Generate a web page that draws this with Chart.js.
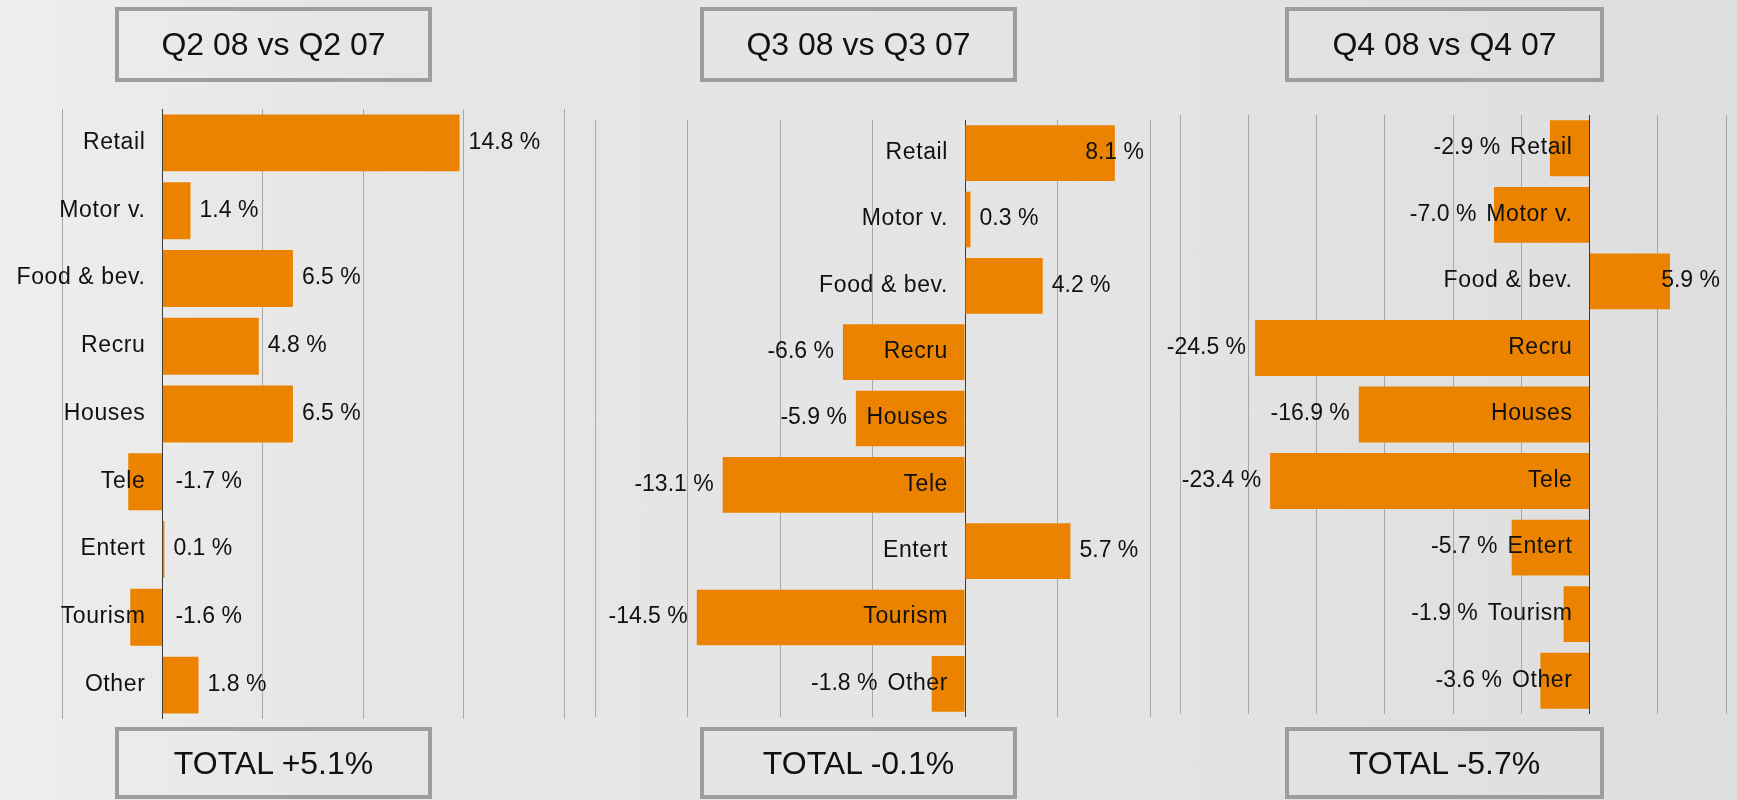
<!DOCTYPE html>
<html>
<head>
<meta charset="utf-8">
<script src="https://cdn.jsdelivr.net/npm/chart.js@4/dist/chart.umd.min.js"></script>
<style>
  html, body { margin: 0; padding: 0; }
  body {
    width: 1737px; height: 800px; overflow: hidden; position: relative;
    background: linear-gradient(to right, #eeeeee 0%, #e6e6e6 20%, #e4e4e4 60%, #dedede 100%);
    font-family: "Liberation Sans", Arial, sans-serif;
  }
  canvas { position: absolute; left: 0; top: 0; }
  .box {
    position: absolute; box-sizing: border-box; border: 4px solid #9d9d9d;
    display: flex; align-items: center; justify-content: center;
    font-size: 32px; color: #111; z-index: 5;
  }
</style>
</head>
<body>
<canvas id="c0" width="1737" height="800"></canvas>
<canvas id="c1" width="1737" height="800"></canvas>
<canvas id="c2" width="1737" height="800"></canvas>
<script>
// data
const categories = ["Retail", "Motor v.", "Food & bev.", "Recru", "Houses", "Tele", "Entert", "Tourism", "Other"];
const q2Values = [14.8, 1.4, 6.5, 4.8, 6.5, -1.7, 0.1, -1.6, 1.8];
const q3Values = [8.1, 0.3, 4.2, -6.6, -5.9, -13.1, 5.7, -14.5, -1.8];
const q4Values = [-2.9, -7.0, 5.9, -24.5, -16.9, -23.4, -5.7, -1.9, -3.6];
const panelTitles = ["Q2 08 vs Q2 07", "Q3 08 vs Q3 07", "Q4 08 vs Q4 07"];
const totals = [5.1, -0.1, -5.7];
const axisMin = [-5, -20, -30];
const axisMax = [20, 10, 10];
const tickStep = 5;

// layout of each panel (plot area in page pixels, header/footer box x range)
const panels = [
    { values: q2Values, plot: { l: 62, r: 564, t: 109, b: 719 }, box: { l: 115, w: 317 }, negSide: "zero" },
    { values: q3Values, plot: { l: 595, r: 1150, t: 120, b: 717 }, box: { l: 700, w: 317 }, negSide: "end" },
    { values: q4Values, plot: { l: 1180, r: 1726, t: 115, b: 714 }, box: { l: 1285, w: 319 }, negSide: "end" }
];

const W = 1737, H = 800;
const FONT = '23px "Liberation Sans", Arial, sans-serif';

function makeLabelPlugin(negSide) {
    return {
        id: "barLabels",
        afterDatasetsDraw(chart) {
            const ctx = chart.ctx;
            const xs = chart.scales.x, ys = chart.scales.y;
            const area = chart.chartArea;
            const zeroX = xs.getPixelForValue(0);
            const vals = chart.data.datasets[0].data;
            ctx.save();
            ctx.font = FONT;
            ctx.fillStyle = "#111";
            ctx.textBaseline = "middle";
            chart.data.labels.forEach(function (lab, i) {
                const y = ys.getPixelForValue(i) - 0.5;
                // category label next to the zero line
                ctx.letterSpacing = "0.6px";
                ctx.textAlign = "right";
                const catRight = zeroX - 17;
                ctx.fillText(lab, catRight, y);
                const catLeft = catRight - ctx.measureText(lab).width;
                // value label
                ctx.letterSpacing = "0px";
                const v = vals[i];
                const txt = v.toFixed(1) + " %";
                const w = ctx.measureText(txt).width;
                const endX = xs.getPixelForValue(v);
                if (v >= 0) {
                    let x = endX + 9;
                    if (x + w > area.right - 6) x = area.right - 6 - w;
                    ctx.textAlign = "left";
                    ctx.fillText(txt, x, y);
                } else if (negSide === "zero") {
                    ctx.textAlign = "left";
                    ctx.fillText(txt, zeroX + 13, y);
                } else {
                    ctx.textAlign = "right";
                    ctx.fillText(txt, Math.min(endX - 9, catLeft - 10), y);
                }
            });
            ctx.restore();
        }
    };
}

panels.forEach(function (p, k) {
    const ctx = document.getElementById("c" + k).getContext("2d");
    new Chart(ctx, {
        type: "bar",
        data: {
            labels: categories,
            datasets: [{
                data: p.values,
                backgroundColor: "#EB8300",
                borderWidth: 0,
                barPercentage: 0.84,
                categoryPercentage: 1
            }]
        },
        options: {
            indexAxis: "y",
            responsive: false,
            animation: false,
            events: [],
            layout: { padding: { left: p.plot.l, right: W - p.plot.r, top: p.plot.t, bottom: H - p.plot.b } },
            plugins: { legend: { display: false }, tooltip: { enabled: false } },
            scales: {
                x: {
                    min: axisMin[k],
                    max: axisMax[k],
                    ticks: { display: false, stepSize: tickStep },
                    border: { display: false },
                    grid: {
                        drawTicks: false,
                        lineWidth: 1,
                        color: function (c) { return c.tick && c.tick.value === 0 ? "#3a3a3a" : "#a8a8a8"; }
                    }
                },
                y: { display: false }
            }
        },
        plugins: [makeLabelPlugin(p.negSide)]
    });

    // header and total boxes
    const head = document.createElement("div");
    head.className = "box";
    head.style.left = p.box.l + "px";
    head.style.top = "7px";
    head.style.width = p.box.w + "px";
    head.style.height = "75px";
    head.textContent = panelTitles[k];
    document.body.appendChild(head);

    const foot = document.createElement("div");
    foot.className = "box";
    foot.style.left = p.box.l + "px";
    foot.style.top = "727px";
    foot.style.width = p.box.w + "px";
    foot.style.height = "72px";
    const t = totals[k];
    foot.textContent = "TOTAL " + (t > 0 ? "+" : "") + t.toFixed(1) + "%";
    document.body.appendChild(foot);
});
</script>
</body>
</html>
